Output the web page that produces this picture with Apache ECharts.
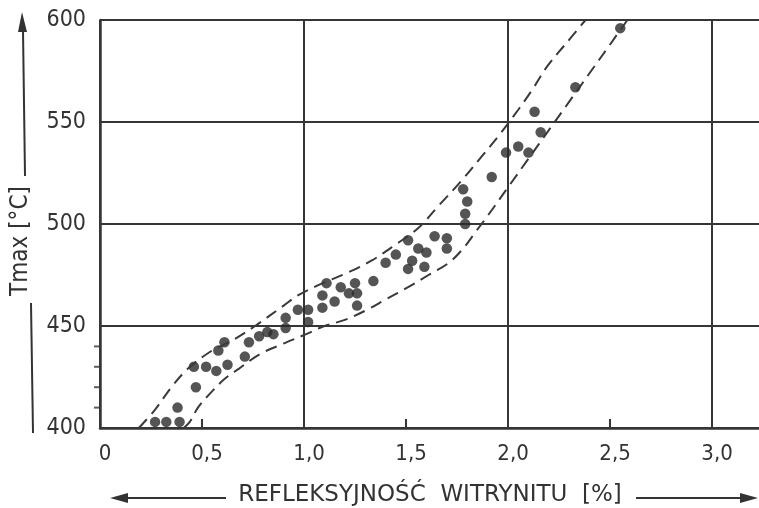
<!DOCTYPE html>
<html><head><meta charset="utf-8">
<script src="https://cdn.jsdelivr.net/npm/echarts@6/dist/echarts.min.js"></script>
<style>html,body{margin:0;padding:0;background:#fff}#c{width:759px;height:508px}</style>
</head><body><div id="c"></div>
<script>
// Tick labels
const xTickLabels = ['0', '0,5', '1,0', '1,5', '2,0', '2,5', '3,0'];
const yTickLabels = ['400', '450', '500', '550', '600'];
const yMinorTicks = [410, 420, 430, 440];
const xTitle = 'REFLEKSYJNOŚĆ  WITRYNITU  [%]';
const yTitle = 'Tmax [°C]';

// Measured samples: vitrinite reflectance [%] vs Tmax [°C]
const pointsX = [0.27, 0.325, 0.39, 0.38, 0.47, 0.46, 0.52, 0.57, 0.625, 0.58, 0.61, 0.71, 0.73, 0.78, 0.82, 0.85,
  0.91, 0.91, 0.97, 1.02, 1.02, 1.09, 1.09, 1.11, 1.15, 1.18, 1.22, 1.25, 1.26, 1.26, 1.34, 1.40, 1.45, 1.51,
  1.53, 1.51, 1.56, 1.60, 1.59, 1.64, 1.70, 1.70, 1.78, 1.80, 1.79, 1.79, 1.92, 1.99, 2.05, 2.10, 2.16, 2.13,
  2.33, 2.55];
const pointsY = [403, 403, 403, 410, 420, 430, 430, 428, 431, 438, 442, 435, 442, 445, 447, 446,
  449, 454, 458, 458, 452, 459, 465, 471, 462, 469, 466, 471, 466, 460, 472, 481, 485, 492,
  482, 478, 488, 486, 479, 494, 493, 488, 517, 511, 505, 500, 523, 535, 538, 535, 545, 555,
  567, 596];

// Dashed envelope curves
const upperX = [0.19, 0.27, 0.35, 0.43, 0.55, 0.65, 0.76, 0.90, 0.97, 1.07, 1.21, 1.33, 1.45, 1.56, 1.66, 1.77, 1.87, 1.96, 2.05, 2.12, 2.19, 2.28, 2.38];
const upperY = [400, 409, 420, 429, 438, 443, 450, 460, 465, 470, 476, 482, 490, 498, 509, 521, 533, 544, 556, 566, 577, 588, 600];
const lowerX = [0.41, 0.44, 0.48, 0.54, 0.61, 0.68, 0.78, 0.89, 1.01, 1.10, 1.20, 1.31, 1.40, 1.51, 1.61, 1.71, 1.78, 1.84, 1.90, 2.00, 2.10, 2.20, 2.30, 2.40, 2.50, 2.585];
const lowerY = [400, 403, 410, 417, 424, 429, 436, 441, 446, 450, 453, 458, 463, 469, 475, 481, 488, 496, 504, 518, 532, 546, 560, 574, 588, 600];

const INK = '#363636';
const FONT = "'DejaVu Sans Condensed', 'Liberation Sans Narrow', sans-serif";
const TITLE_FONT = "'DejaVu Sans', sans-serif";
const zip = (a, b) => a.map((v, i) => [v, b[i]]);

const chart = echarts.init(document.getElementById('c'), null, {renderer: 'canvas'});
chart.setOption({
  animation: false,
  backgroundColor: '#fff',
  grid: {left: 100, right: 0, top: 20, bottom: 80, containLabel: false},
  xAxis: [{
    type: 'value', min: 0, max: 3.23, interval: 0.5,
    axisLine: {show: true, lineStyle: {color: INK, width: 2.5}},
    axisTick: {show: true, inside: true, length: 9, lineStyle: {color: INK, width: 2}},
    axisLabel: {
      show: true, margin: 15, color: '#333', fontFamily: FONT, fontSize: 22, showMaxLabel: false,
      padding: [0, 0, 0, 10],
      formatter: v => { const i = Math.round(v / 0.5); return Math.abs(v - i * 0.5) < 1e-6 ? (xTickLabels[i] || '') : ''; }
    },
    splitLine: {show: false}
  }, {
    type: 'value', min: 0, max: 3.23, interval: 1, position: 'bottom',
    axisLine: {show: false}, axisTick: {show: false}, axisLabel: {show: false},
    splitLine: {show: true, showMaxLine: false, lineStyle: {color: INK, width: 2}}
  }],
  yAxis: {
    type: 'value', min: 400, max: 600, interval: 50,
    axisLine: {show: true, lineStyle: {color: INK, width: 2.5}},
    axisTick: {show: false},
    axisLabel: {
      margin: 14, color: '#333', fontFamily: FONT, fontSize: 23,
      formatter: v => yTickLabels[Math.round((v - 400) / 50)] || ''
    },
    splitLine: {show: true, lineStyle: {color: INK, width: 2}}
  },
  series: [
    {
      type: 'line', data: zip(upperX, upperY), showSymbol: false, smooth: 0.35, silent: true,
      lineStyle: {color: '#3a3a3a', width: 2, type: [12, 7]}
    },
    {
      type: 'line', data: zip(lowerX, lowerY), showSymbol: false, smooth: 0.35, silent: true,
      lineStyle: {color: '#3a3a3a', width: 2, type: [12, 7]}
    },
    {
      type: 'scatter', data: zip(pointsX, pointsY), symbolSize: 10.5, clip: false,
      itemStyle: {color: '#2a2a2a'}
    },
    {
      type: 'scatter', data: yMinorTicks.map(v => [0, v]), symbol: 'rect', symbolSize: [6, 2],
      symbolOffset: [-3, 0], clip: false, silent: true, itemStyle: {color: INK}
    }
  ],
  graphic: [
    {type: 'text', x: 430, y: 495, style: {text: xTitle, fontFamily: TITLE_FONT, fontSize: 23, fill: '#333', align: 'center', verticalAlign: 'middle'}},
    {type: 'line', shape: {x1: 124, y1: 498, x2: 226, y2: 498}, style: {stroke: '#333', lineWidth: 2}},
    {type: 'polygon', shape: {points: [[110, 498], [128, 493], [128, 503]]}, style: {fill: '#333'}},
    {type: 'line', shape: {x1: 636, y1: 498, x2: 744, y2: 498}, style: {stroke: '#333', lineWidth: 2}},
    {type: 'polygon', shape: {points: [[758, 498], [740, 493], [740, 503]]}, style: {fill: '#333'}},
    {type: 'text', x: 21, y: 241, rotation: Math.PI / 2, style: {text: yTitle, fontFamily: FONT, fontSize: 24, fill: '#333', align: 'center', verticalAlign: 'middle'}},
    {type: 'line', shape: {x1: 23, y1: 30, x2: 25, y2: 176}, style: {stroke: '#333', lineWidth: 2}},
    {type: 'polygon', shape: {points: [[22, 12], [18, 32], [27, 32]]}, style: {fill: '#333'}},
    {type: 'line', shape: {x1: 31, y1: 303, x2: 33, y2: 433}, style: {stroke: '#333', lineWidth: 2}}
  ]
});
</script>
</body></html>
